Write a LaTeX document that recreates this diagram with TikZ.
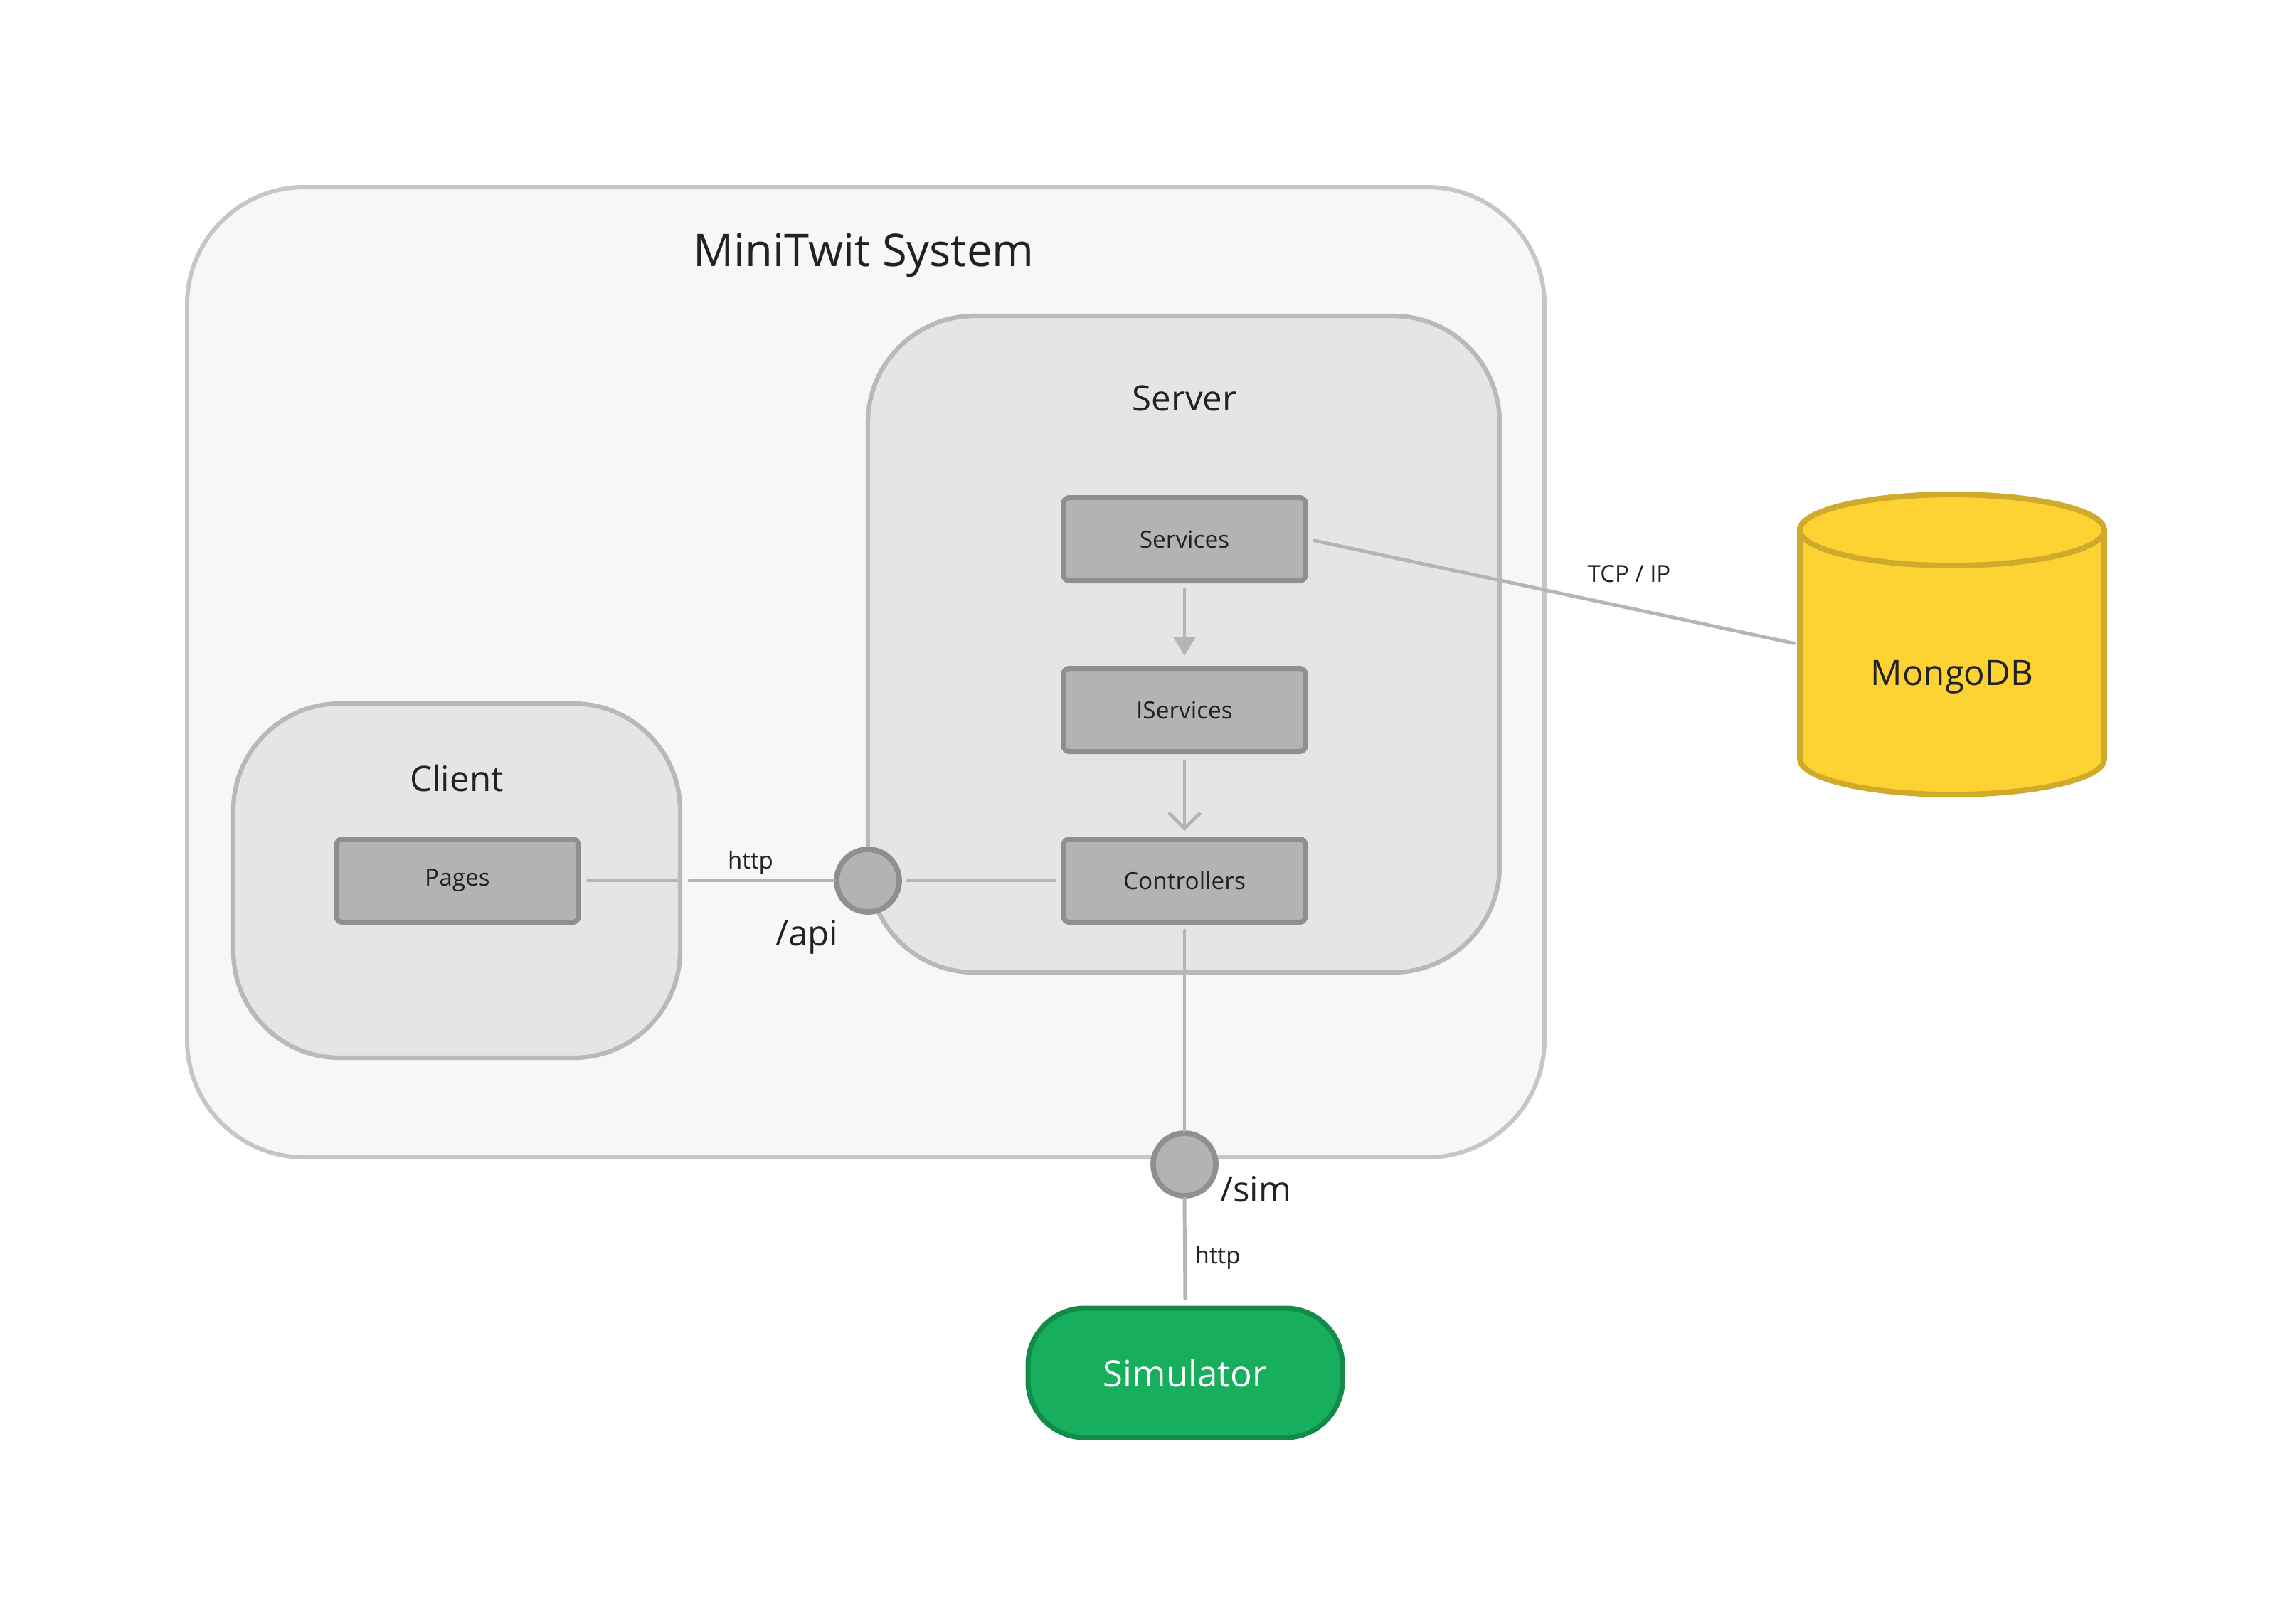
\documentclass[tikz,border=0pt]{standalone}
\usepackage{fontspec}
\setmainfont{Open Sans}
\usetikzlibrary{arrows.meta}
\definecolor{sysfill}{HTML}{F7F7F7}
\definecolor{sysline}{HTML}{C6C6C6}
\definecolor{partfill}{HTML}{E5E5E5}
\definecolor{partline}{HTML}{B9B9B9}
\definecolor{compfill}{HTML}{B3B3B3}
\definecolor{compline}{HTML}{8F8F8F}
\definecolor{wirecol}{HTML}{B5B5B5}
\definecolor{dbfill}{HTML}{FDD333}
\definecolor{dbline}{HTML}{CFAA2B}
\definecolor{simfill}{HTML}{17AF5E}
\definecolor{simline}{HTML}{128A4A}
\definecolor{ink}{HTML}{222222}
\begin{document}
\begin{tikzpicture}[
		every node/.style={text=ink},
		system/.style={draw=sysline, fill=sysfill, line width=1.7pt, rounded corners=1.65cm},
		part/.style={draw=partline, fill=partfill, line width=1.8pt, rounded corners=1.5cm},
		comp/.style={draw=compline, fill=compfill, line width=2pt, rounded corners=0.08cm, minimum width=3.40cm, minimum height=1.17cm, font=\fontsize{9.5}{11}\selectfont},
		port/.style={circle, draw=compline, fill=compfill, line width=2.2pt, minimum size=0.88cm, inner sep=0pt},
		wire/.style={draw=wirecol, line width=1.4pt, line cap=round},
		small/.style={font=\fontsize{9.4}{11}\selectfont},
		big/.style={font=\fontsize{14}{17}\selectfont}
	]
		\useasboundingbox (0,0) rectangle (32.19,-22.82);
		% boxes
		\node[system, minimum width=19.08cm, minimum height=13.64cm] (system) at (12.17,-9.45) {};
		\node[anchor=base, font=\fontsize{18}{22}\selectfont] (systitle) at (12.14,-3.74) {MiniTwit System};
		\node[part, minimum width=8.88cm, minimum height=9.23cm] (server) at (16.64,-9.055) {};
		\node[anchor=base, big] (servertitle) at (16.65,-5.77) {Server};
		\node[part, minimum width=6.28cm, minimum height=4.98cm] (client) at (6.42,-12.38) {};
		\node[anchor=base, big] (clienttitle) at (6.42,-11.12) {Client};
		%
		\node[comp] (services) at (16.65,-7.58) {Services};
		\node[comp] (iservices) at (16.65,-9.98) {IServices};
		\node[comp] (controllers) at (16.65,-12.38) {Controllers};
		\node[comp] (pages) at (6.43,-12.38) {Pages};
		% database
		\node[minimum width=4.28cm, minimum height=4.22cm] (mongo) at (27.44,-9.06) {};
		\draw[draw=dbline, fill=dbfill, line width=2.2pt] (25.30,-7.45) -- (25.30,-10.67) arc[start angle=180, end angle=360, x radius=2.14, y radius=0.5] -- (29.58,-7.45) arc[start angle=0, end angle=180, x radius=2.14, y radius=0.5] -- cycle;
		\draw[draw=dbline, line width=2.2pt] (27.44,-7.45) ellipse (2.14 and 0.5);
		\node[anchor=base, big] (mongolabel) at (27.44,-9.63) {MongoDB};
		%
		\node[draw=simline, fill=simfill, line width=2pt, rounded corners=0.8cm, minimum width=4.42cm, minimum height=1.82cm, text=white, font=\fontsize{14.5}{17}\selectfont] (simulator) at (16.66,-19.30) {Simulator};
		% ports
		\node[port] (api) at (12.20,-12.38) {};
		\node[port] (sim) at (16.65,-16.37) {};
		\node[anchor=base, big] (apilabel) at (11.34,-13.29) {/api};
		\node[anchor=base, big] (simlabel) at (17.65,-16.89) {/sim};
		% connectors
		\draw[wire, -{Triangle[length=0.27cm, width=0.31cm]}, shorten <=0.08cm, shorten >=0.14cm] (services) -- (iservices);
		\draw[wire, -{Straight Barb[length=0.22cm, width=0.45cm]}, shorten <=0.1cm, shorten >=0.08cm] (iservices) -- (controllers);
		\draw[wire, shorten <=0.1cm, shorten >=0.08cm] (pages.east) -- (client.east);
		\draw[wire, shorten <=0.1cm] (client.east) -- node[pos=.45, above=-1.5pt, small] (apihttp) {http} (api.west);
		\draw[wire, shorten <=0.08cm, shorten >=0.09cm] (api.east) -- (controllers.west);
		\draw[wire, shorten <=0.08cm] (controllers.south) -- (sim.north);
		\draw[wire, shorten >=0.1cm] (sim.south) -- node[pos=.55, right, small] (simhttp) {http} (simulator.north);
		\draw[wire, shorten <=0.09cm, shorten >=0.08cm] (services.east) -- (mongo.west);
		\node[anchor=base, small] (tcplabel) at (22.90,-8.18) {TCP / IP};
	\end{tikzpicture}
\end{document}
